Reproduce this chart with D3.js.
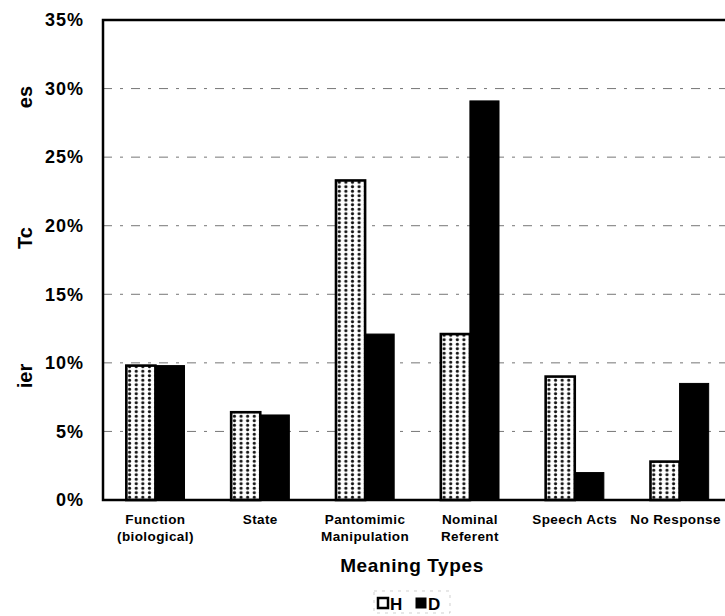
<!DOCTYPE html>
<html>
<head>
<meta charset="utf-8">
<script src="https://cdn.jsdelivr.net/npm/d3@7"></script>
<style>
  html, body { margin: 0; padding: 0; background: #fff; }
  svg { display: block; font-family: "Liberation Sans", Arial, sans-serif; }
</style>
</head>
<body>
<div id="chart"></div>
<script>
// Meaning-type categories (label lines)
const categories = [
  ["Function", "(biological)"],
  ["State"],
  ["Pantomimic", "Manipulation"],
  ["Nominal", "Referent"],
  ["Speech Acts"],
  ["No Response"]
]
const seriesNames = ["H", "D"]
const valuesH = [9.8, 6.4, 23.3, 12.1, 9.0, 2.8]
const valuesD = [9.8, 6.2, 12.1, 29.1, 2.0, 8.5]
const yTicks = [0, 5, 10, 15, 20, 25, 30, 35]
// surviving fragments of the y-axis title, with their vertical centres
const yTitleBits = [["es", 97], ["Tc", 238], ["ier", 376]]

const width = 725
const height = 616
const margin = { top: 20, left: 103, bottom: 500, right: 732 }

const svg = d3.select("#chart").append("svg")
  .attr("width", width)
  .attr("height", height)

const defs = svg.append("defs")
const pat = defs.append("pattern")
  .attr("id", "dots")
  .attr("patternUnits", "userSpaceOnUse")
  .attr("width", 6.6)
  .attr("height", 4.5)
pat.append("rect").attr("width", 6.6).attr("height", 4.5).attr("fill", "#fff")
pat.append("circle").attr("cx", 3.3).attr("cy", 2.25).attr("r", 1.6).attr("fill", "#111")

const labels = categories.map(d => d.join(" "))

const x = d3.scaleBand()
  .domain(labels)
  .range([margin.left, margin.right])
  .paddingInner(0.445)
  .paddingOuter(0.2225)

const xs = d3.scaleBand()
  .domain(seriesNames)
  .range([0, x.bandwidth()])

const y = d3.scaleLinear()
  .domain([0, 35])
  .range([margin.bottom, margin.top])

// Gridlines
svg.append("g")
  .selectAll("line")
  .data(yTicks.filter(t => t > 0 && t < 35))
  .join("line")
  .attr("x1", margin.left)
  .attr("x2", width)
  .attr("y1", d => y(d))
  .attr("y2", d => y(d))
  .attr("stroke", "#666")
  .attr("stroke-width", 0.9)
  .attr("stroke-dasharray", "9,8,3,8")

// Bars
const groups = svg.append("g")
  .selectAll("g")
  .data(labels)
  .join("g")
  .attr("transform", d => `translate(${x(d)},0)`)

groups.append("rect")
  .attr("x", xs("H"))
  .attr("y", (d, i) => y(valuesH[i]))
  .attr("width", xs.bandwidth())
  .attr("height", (d, i) => y(0) - y(valuesH[i]))
  .attr("fill", "url(#dots)")
  .attr("stroke", "#000")
  .attr("stroke-width", 2.6)

groups.append("rect")
  .attr("x", xs("D"))
  .attr("y", (d, i) => y(valuesD[i]))
  .attr("width", xs.bandwidth())
  .attr("height", (d, i) => y(0) - y(valuesD[i]))
  .attr("fill", "#000")
  .attr("stroke", "#000")
  .attr("stroke-width", 1)

// Frame
svg.append("path")
  .attr("d", `M${margin.right},${margin.top}H${margin.left}V${margin.bottom}H${margin.right}`)
  .attr("fill", "none")
  .attr("stroke", "#000")
  .attr("stroke-width", 2.5)

// Y axis labels
const yAxis = svg.append("g")
  .attr("transform", `translate(${margin.left},0)`)
  .call(d3.axisLeft(y).tickValues(yTicks).tickSize(0).tickPadding(19).tickFormat(d => d + "%"))
yAxis.select(".domain").remove()
yAxis.selectAll("text")
  .attr("font-size", "18px")
  .attr("font-weight", "bold")
  .attr("letter-spacing", "1px")
  .attr("fill", "#000")
  .attr("font-family", "Liberation Sans, Arial, sans-serif")

// Y title fragments
svg.append("g")
  .selectAll("text")
  .data(yTitleBits)
  .join("text")
  .attr("transform", d => `translate(32,${d[1]}) rotate(-90)`)
  .attr("text-anchor", "middle")
  .attr("font-size", "20px")
  .attr("font-weight", "bold")
  .text(d => d[0])

// Category labels
const catG = svg.append("g")
categories.forEach((lines, i) => {
  const cx = x(labels[i]) + x.bandwidth() / 2
  lines.forEach((ln, j) => {
    catG.append("text")
      .attr("x", cx - (i === 5 ? 4 : 0))
      .attr("y", 524 + j * 17)
      .attr("text-anchor", "middle")
      .attr("font-size", "13.5px")
      .attr("font-weight", "bold")
      .attr("letter-spacing", "0.4px")
      .text(ln)
  })
})

// Axis title
svg.append("text")
  .attr("x", 412)
  .attr("y", 572)
  .attr("text-anchor", "middle")
  .attr("font-size", "19px")
  .attr("font-weight", "bold")
  .attr("letter-spacing", "0.6px")
  .text("Meaning Types")

// Legend
const leg = svg.append("g").attr("transform", "translate(378,597)")
leg.append("rect")
  .attr("x", -4).attr("y", -6).attr("width", 76).attr("height", 22)
  .attr("fill", "none").attr("stroke", "#bbb").attr("stroke-width", 0.7)
  .attr("stroke-dasharray", "3,5")
seriesNames.forEach((s, i) => {
  const lx = i * 38
  leg.append("rect")
    .attr("x", lx).attr("y", 1).attr("width", 10).attr("height", 10)
    .attr("fill", s === "H" ? "#fff" : "#000")
    .attr("stroke", "#000").attr("stroke-width", s === "H" ? 2.5 : 1)
  leg.append("text")
    .attr("x", lx + 12).attr("y", 12.5)
    .attr("font-size", "17px").attr("font-weight", "bold")
    .text(s)
})
</script>
</body>
</html>
